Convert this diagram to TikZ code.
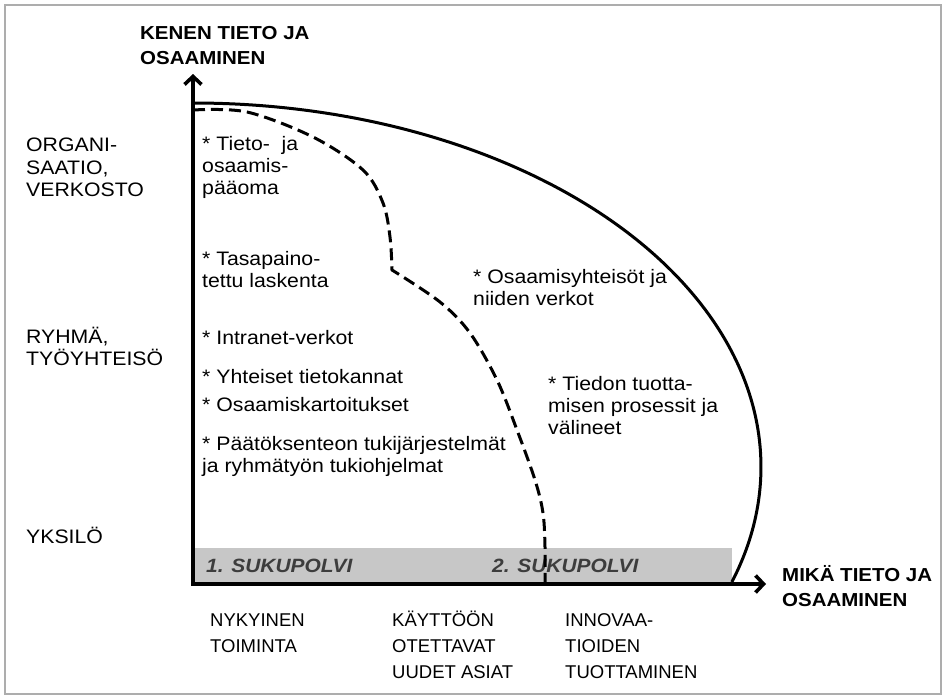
\documentclass[tikz,border=0pt]{standalone}
\usepackage{fontspec}
\setmainfont[FakeStretch=1.09]{Liberation Sans}
\newfontfamily\plainsans{Liberation Sans}
\usetikzlibrary{arrows.meta}
% left-aligned lines whose baseline is that of the first line
\newcommand\toplines[1]{\begin{tabular}[t]{@{}l@{}}#1\end{tabular}}
\begin{document}
\begin{tikzpicture}[x=1pt,y=-1pt,
  lbl/.style={anchor=north west,inner sep=0pt,align=left,
    font=\fontsize{19.5}{22.3}\selectfont},
  cat/.style={anchor=base west,inner sep=0pt,
    font=\plainsans\fontsize{18.5}{26}\selectfont},
  head/.style={anchor=north west,inner sep=0pt,align=left,
    font=\bfseries\fontsize{18.8}{25}\selectfont},
  gen/.style={anchor=west,inner sep=0pt,text=black!76,
    font=\bfseries\itshape\fontsize{19.2}{22}\selectfont},
  axisline/.style={line width=3.6pt,line join=miter,
    {Straight Barb[length=8pt,width=17pt]}-{Straight Barb[length=8pt,width=17pt]}},
  frontier/.style={line width=3pt},
  dashfrontier/.style={line width=3pt,dash pattern=on 12pt off 6pt}]

\useasboundingbox (0,0) rectangle (946,699);
% outer frame
\draw[black!32,line width=2pt] (5,5) rectangle (941,694);

% generation band along the horizontal axis
\fill[black!22] (193,548) rectangle (732,584);
\node[gen] (gen1) at (206,566) {1. SUKUPOLVI};
\node[gen] (gen2) at (492,566) {2. SUKUPOLVI};

% axes
\coordinate (O) at (193,584);
\coordinate (ytip) at (193,74);
\coordinate (xtip) at (766,584);
\draw[axisline] (ytip) -- (O) -- (xtip);

% outer frontier (solid): part of an ellipse centred on the vertical axis
\coordinate (outerstart) at (193,103);
\draw[frontier] (outerstart)
  arc[start angle=-90,end angle=18.42,x radius=568,y radius=364];

% inner frontier (dashed) with a kink
\draw[dashfrontier] plot[smooth,tension=0.55] coordinates {
  (193,110) (247,112) (313,137) (363,170) (383,203) (390,237) (392,270)}
  -- plot[smooth,tension=0.55] coordinates {
  (392,270) (440,302) (470,333) (497,380) (517,430) (535,480)
  (543,513) (545,547) (545,584)};

% axis titles
\node[head] (ytitle) at (140,26) {KENEN TIETO JA\\OSAAMINEN};
\node[head] (xtitle) at (782,565) {MIKÄ TIETO JA\\OSAAMINEN};

% levels on the vertical axis
\node[lbl] (org) at (26,138) {ORGANI-\\SAATIO,\\VERKOSTO};
\node[lbl] (grp) at (26,327) {RYHMÄ,\\TYÖYHTEISÖ};
\node[lbl] (ind) at (26,527) {YKSILÖ};

% categories on the horizontal axis, first baselines aligned
\node[cat] (now) at (210,626.5) {\toplines{NYKYINEN\\TOIMINTA}};
\node[cat] (new) at (392,626.5) {\toplines{KÄYTTÖÖN\\OTETTAVAT\\UUDET ASIAT}};
\node[cat] (inno) at (565,626.5) {\toplines{INNOVAA-\\TIOIDEN\\TUOTTAMINEN}};

% first generation contents
\node[lbl] (t1) at (202,136) {* Tieto-\ \ ja\\osaamis-\\pääoma};
\node[lbl] (t2) at (202,251) {* Tasapaino-\\tettu laskenta};
\node[lbl] (t3) at (202,330) {* Intranet-verkot};
\node[lbl] (t4) at (202,369) {* Yhteiset tietokannat};
\node[lbl] (t5) at (202,397) {* Osaamiskartoitukset};
\node[lbl] (t6) at (202,436) {* Päätöksenteon tukijärjestelmät\\ja ryhmätyön tukiohjelmat};

% second generation contents
\node[lbl] (s1) at (473,269) {* Osaamisyhteisöt ja\\niiden verkot};
\node[lbl] (s2) at (548,376) {* Tiedon tuotta-\\misen prosessit ja\\välineet};
\end{tikzpicture}
\end{document}
